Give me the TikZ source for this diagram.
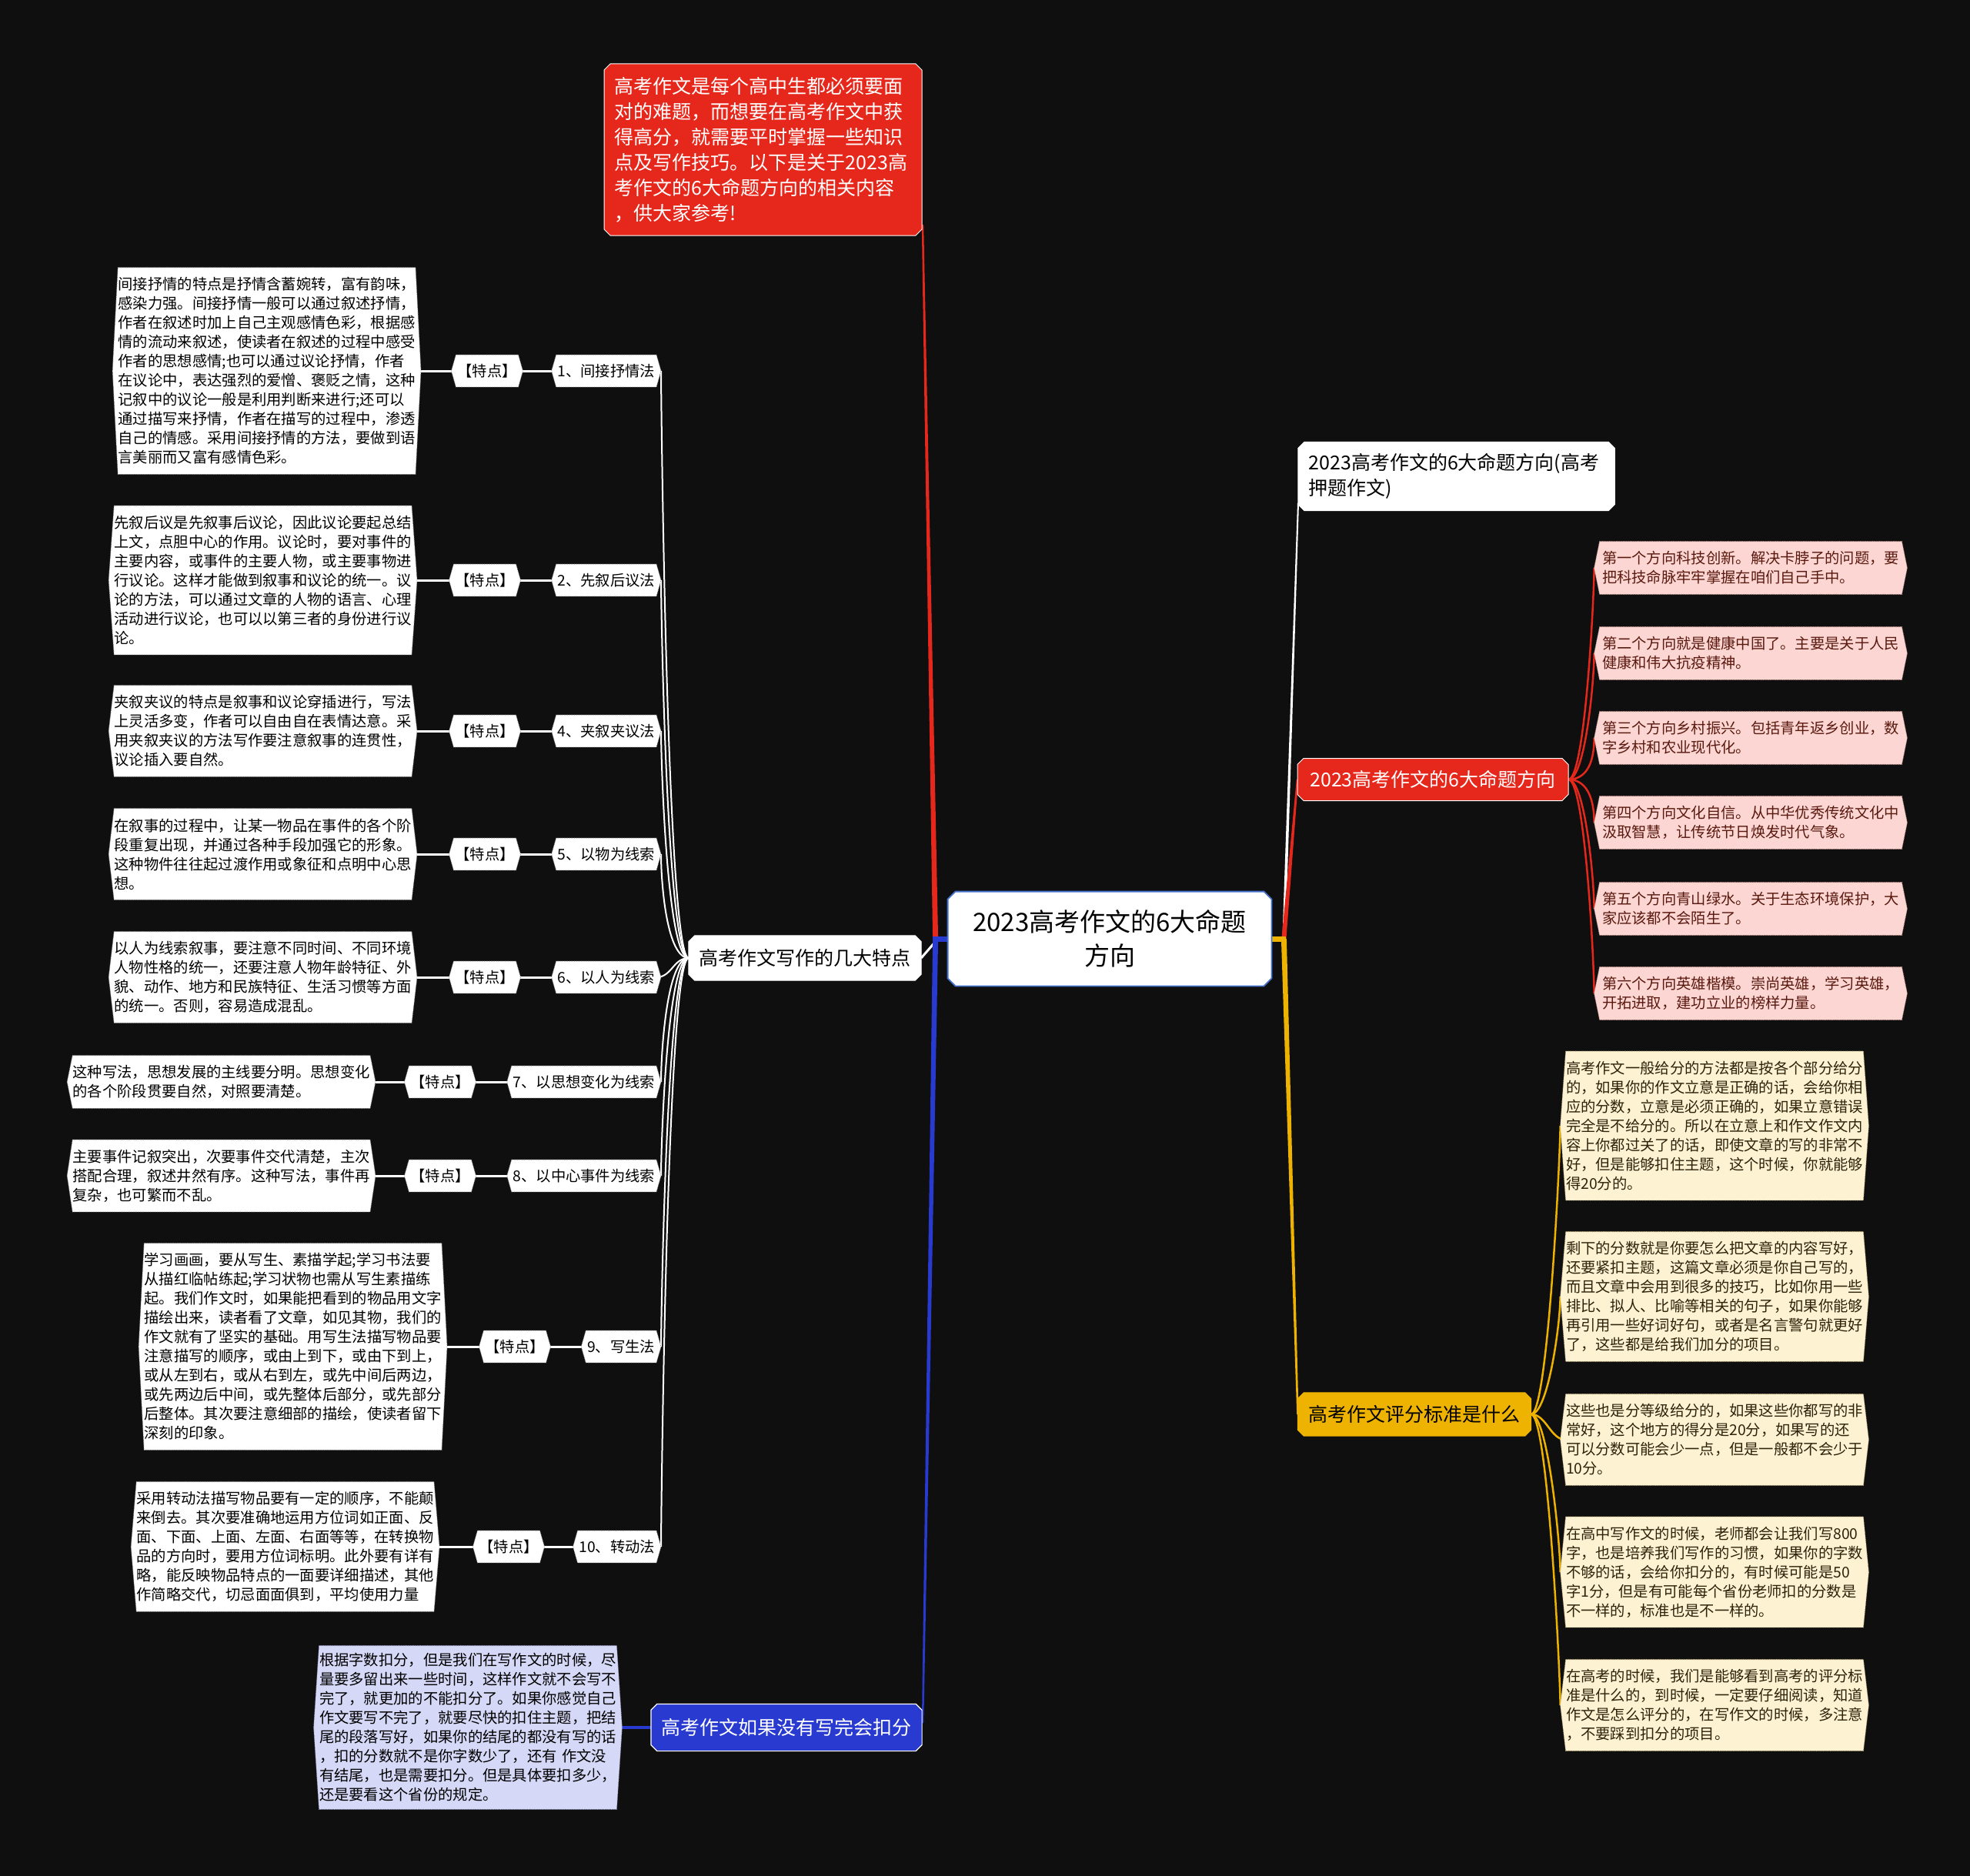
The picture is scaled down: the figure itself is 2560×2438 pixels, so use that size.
\documentclass[tikz,border=0pt]{standalone}
\usepackage{fontspec}
\newfontfamily\cjk{Noto Sans CJK SC}
\usetikzlibrary{calc,backgrounds}
\definecolor{bgc}{RGB}{15,15,15}
\definecolor{tred}{RGB}{230,40,28}
\definecolor{tblue}{RGB}{40,58,208}
\definecolor{tyel}{RGB}{238,178,0}
\definecolor{pinkf}{RGB}{252,214,210}
\definecolor{pinkd}{RGB}{200,150,145}
\definecolor{pinkt}{RGB}{90,25,15}
\definecolor{creamf}{RGB}{253,242,210}
\definecolor{creamd}{RGB}{190,170,120}
\definecolor{creamt}{RGB}{45,35,10}
\definecolor{lavf}{RGB}{213,216,246}
\definecolor{lavd}{RGB}{150,150,190}
\definecolor{cblue}{RGB}{70,115,205}

\makeatletter
\newdimen\hexTip \hexTip=6pt
\newdimen\hexCham \hexCham=0pt
\newdimen\hxL \newdimen\hxR \newdimen\hyB \newdimen\hyT \newdimen\hyM
\newdimen\hxLc \newdimen\hxRc \newdimen\hyBc \newdimen\hyTc \newdimen\hxLt \newdimen\hxRt
\pgfdeclareshape{hexbox}{
  \inheritsavedanchors[from=rectangle]
  \inheritanchorborder[from=rectangle]
  \inheritanchor[from=rectangle]{center}
  \inheritanchor[from=rectangle]{mid}
  \inheritanchor[from=rectangle]{base}
  \inheritanchor[from=rectangle]{north}
  \inheritanchor[from=rectangle]{south}
  \inheritanchor[from=rectangle]{east}
  \inheritanchor[from=rectangle]{west}
  \inheritanchor[from=rectangle]{north east}
  \inheritanchor[from=rectangle]{north west}
  \inheritanchor[from=rectangle]{south east}
  \inheritanchor[from=rectangle]{south west}
  \backgroundpath{%
    \southwest \hxL=\pgf@x \hyB=\pgf@y
    \northeast \hxR=\pgf@x \hyT=\pgf@y
    \hyM=.5\hyB \advance\hyM by .5\hyT
    \hxLc=\hxL \advance\hxLc by \hexCham
    \hxRc=\hxR \advance\hxRc by -\hexCham
    \hyBc=\hyB \advance\hyBc by \hexCham
    \hyTc=\hyT \advance\hyTc by -\hexCham
    \hxLt=\hxL \advance\hxLt by -\hexTip
    \hxRt=\hxR \advance\hxRt by \hexTip
    \pgfpathmoveto{\pgfqpoint{\hxLc}{\hyT}}
    \pgfpathlineto{\pgfqpoint{\hxRc}{\hyT}}
    \pgfpathlineto{\pgfqpoint{\hxR}{\hyTc}}
    \pgfpathlineto{\pgfqpoint{\hxRt}{\hyM}}
    \pgfpathlineto{\pgfqpoint{\hxR}{\hyBc}}
    \pgfpathlineto{\pgfqpoint{\hxRc}{\hyB}}
    \pgfpathlineto{\pgfqpoint{\hxLc}{\hyB}}
    \pgfpathlineto{\pgfqpoint{\hxL}{\hyBc}}
    \pgfpathlineto{\pgfqpoint{\hxLt}{\hyM}}
    \pgfpathlineto{\pgfqpoint{\hxL}{\hyTc}}
    \pgfpathclose
  }
}
\makeatother

\newcommand\taperline[5]{\fill[#1] ($(#2)!#4!90:(#3)$) -- ($(#3)!#5!-90:(#2)$) -- ($(#3)!#5!90:(#2)$) -- ($(#2)!#4!-90:(#3)$) -- cycle;}

\tikzset{
  hex tip/.code={\global\hexTip=#1},
  hex cham/.code={\global\hexCham=#1},
  nl/.style={minimum height={(#1-1)*25pt+43pt}},
  leaf/.style={shape=hexbox, hex tip=7pt, hex cham=0pt, align=left, text width=386pt,
    inner xsep=0pt, inner ysep=2pt, font=\cjk\fontsize{19.3}{25}\selectfont,
    line width=0.8pt, densely dotted},
  wleaf/.style={leaf, fill=white, draw=black!45, text=black},
  pleaf/.style={leaf, fill=pinkf, draw=pinkd, text=pinkt, inner xsep=3pt},
  yleaf/.style={leaf, fill=creamf, draw=creamd, text=creamt},
  vleaf/.style={leaf, fill=lavf, draw=lavd, text=black},
  small/.style={shape=hexbox, hex tip=6pt, hex cham=0pt, fill=white, draw=black!45,
    densely dotted, line width=0.8pt, font=\cjk\fontsize{19.3}{25}\selectfont,
    inner xsep=1.5pt, inner ysep=0pt, minimum height=41pt, text=black},
  main/.style={shape=hexbox, hex tip=0pt, hex cham=8pt, font=\cjk\fontsize{25}{33}\selectfont,
    inner xsep=13pt, inner ysep=0pt, line width=1.2pt},
  wthin/.style={draw=white, line width=2pt},
  wthick/.style={draw=white, line width=3pt},
  rthin/.style={draw=tred, line width=2.5pt},
  ythin/.style={draw=tyel, line width=2.5pt},
}

\begin{document}
\begin{tikzpicture}[x=1pt,y=-1pt]
\useasboundingbox (0,0) rectangle (2560,2438);

% ---------- main nodes
\node[main, hex cham=10pt, fill=white, draw=cblue, line width=1.8pt, text=black,
  minimum width=419pt, minimum height=121pt, align=center,
  font=\cjk\fontsize{33}{44}\selectfont] (C) at (1442,1220) {2023高考作文的6大命题\\方向};

\node[main, anchor=north west, fill=tred, draw=white, line width=1pt, text=white,
  text width=386pt, align=left, minimum height=222pt] (T) at (785,83)
  {高考作文是每个高中生都必须要面\\对的难题，而想要在高考作文中获\\得高分，就需要平时掌握一些知识\\点及写作技巧。以下是关于2023高\\考作文的6大命题方向的相关内容\\，供大家参考!};

\node[main, fill=white, draw=white, text=black, minimum width=301pt, minimum height=57pt]
  (LB) at (1046,1245) {高考作文写作的几大特点};

\node[main, fill=tblue, draw=white, text=white, minimum width=350pt, minimum height=60pt]
  (BL) at (1022,2245) {高考作文如果没有写完会扣分};

\node[main, anchor=west, fill=white, draw=white, text=black, text width=384pt, align=left,
  minimum height=88pt] (RT) at (1687,619) {2023高考作文的6大命题方向(高考\\押题作文)};

\node[main, fill=tred, draw=white, line width=1pt, text=white, minimum width=351pt, minimum height=54pt]
  (RR) at (1862,1013) {2023高考作文的6大命题方向};

\node[main, fill=tyel, draw=tyel, text=black, minimum width=302pt, minimum height=55pt]
  (RY) at (1838,1838) {高考作文评分标准是什么};

% ---------- pink leaves
\node[pleaf, nl=2] (P1) at (2275,738) {第一个方向科技创新。解决卡脖子的问题，要\\把科技命脉牢牢掌握在咱们自己手中。};
\node[pleaf, nl=2] (P2) at (2275,849) {第二个方向就是健康中国了。主要是关于人民\\健康和伟大抗疫精神。};
\node[pleaf, nl=2] (P3) at (2275,959) {第三个方向乡村振兴。包括青年返乡创业，数\\字乡村和农业现代化。};
\node[pleaf, nl=2] (P4) at (2275,1069) {第四个方向文化自信。从中华优秀传统文化中\\汲取智慧，让传统节日焕发时代气象。};
\node[pleaf, nl=2] (P5) at (2275,1181) {第五个方向青山绿水。关于生态环境保护，大\\家应该都不会陌生了。};
\node[pleaf, nl=2] (P6) at (2275,1291) {第六个方向英雄楷模。崇尚英雄，学习英雄，\\开拓进取，建功立业的榜样力量。};

% ---------- cream leaves
\node[yleaf, nl=7] (Y1) at (2228,1463) {高考作文一般给分的方法都是按各个部分给分\\的，如果你的作文立意是正确的话，会给你相\\应的分数，立意是必须正确的，如果立意错误\\完全是不给分的。所以在立意上和作文作文内\\容上你都过关了的话，即使文章的写的非常不\\好，但是能够扣住主题，这个时候，你就能够\\得20分的。};
\node[yleaf, nl=6] (Y2) at (2228,1685) {剩下的分数就是你要怎么把文章的内容写好，\\还要紧扣主题，这篇文章必须是你自己写的，\\而且文章中会用到很多的技巧，比如你用一些\\排比、拟人、比喻等相关的句子，如果你能够\\再引用一些好词好句，或者是名言警句就更好\\了，这些都是给我们加分的项目。};
\node[yleaf, nl=4] (Y3) at (2228,1871) {这些也是分等级给分的，如果这些你都写的非\\常好，这个地方的得分是20分，如果写的还\\可以分数可能会少一点，但是一般都不会少于\\10分。};
\node[yleaf, nl=5] (Y4) at (2228,2043) {在高中写作文的时候，老师都会让我们写800\\字，也是培养我们写作的习惯，如果你的字数\\不够的话，会给你扣分的，有时候可能是50\\字1分，但是有可能每个省份老师扣的分数是\\不一样的，标准也是不一样的。};
\node[yleaf, nl=4] (Y5) at (2228,2216) {在高考的时候，我们是能够看到高考的评分标\\准是什么的，到时候，一定要仔细阅读，知道\\作文是怎么评分的，在写作文的时候，多注意\\，不要踩到扣分的项目。};

% ---------- lavender leaf
\node[vleaf, minimum height=212pt] (V) at (608,2245) {根据字数扣分，但是我们在写作文的时候，尽\\量要多留出来一些时间，这样作文就不会写不\\完了，就更加的不能扣分了。如果你感觉自己\\作文要写不完了，就要尽快的扣住主题，把结\\尾的段落写好，如果你的结尾的都没有写的话\\，扣的分数就不是你字数少了，还有 作文没\\有结尾，也是需要扣分。但是具体要扣多少，\\还是要看这个省份的规定。};

% ---------- left rows
\node[small, anchor=east] (L1) at (853,482) {1、间接抒情法};
\node[small] (F1) at (633,482) {【特点】};
\node[wleaf, nl=10, anchor=east] (X1) at (540,482) {间接抒情的特点是抒情含蓄婉转，富有韵味，\\感染力强。间接抒情一般可以通过叙述抒情，\\作者在叙述时加上自己主观感情色彩，根据感\\情的流动来叙述，使读者在叙述的过程中感受\\作者的思想感情;也可以通过议论抒情，作者\\在议论中，表达强烈的爱憎、褒贬之情，这种\\记叙中的议论一般是利用判断来进行;还可以\\通过描写来抒情，作者在描写的过程中，渗透\\自己的情感。采用间接抒情的方法，要做到语\\言美丽而又富有感情色彩。};

\node[small, anchor=east] (L2) at (853,754) {2、先叙后议法};
\node[small] (F2) at (630,754) {【特点】};
\node[wleaf, nl=7, anchor=east] (X2) at (535,754) {先叙后议是先叙事后议论，因此议论要起总结\\上文，点胆中心的作用。议论时，要对事件的\\主要内容，或事件的主要人物，或主要事物进\\行议论。这样才能做到叙事和议论的统一。议\\论的方法，可以通过文章的人物的语言、心理\\活动进行议论，也可以以第三者的身份进行议\\论。};

\node[small, anchor=east] (L4) at (853,950) {4、夹叙夹议法};
\node[small] (F4) at (630,950) {【特点】};
\node[wleaf, nl=4, anchor=east] (X4) at (535,950) {夹叙夹议的特点是叙事和议论穿插进行，写法\\上灵活多变，作者可以自由自在表情达意。采\\用夹叙夹议的方法写作要注意叙事的连贯性，\\议论插入要自然。};

\node[small, anchor=east] (L5) at (853,1110) {5、以物为线索};
\node[small] (F5) at (630,1110) {【特点】};
\node[wleaf, nl=4, anchor=east] (X5) at (535,1110) {在叙事的过程中，让某一物品在事件的各个阶\\段重复出现，并通过各种手段加强它的形象。\\这种物件往往起过渡作用或象征和点明中心思\\想。};

\node[small, anchor=east] (L6) at (853,1270) {6、以人为线索};
\node[small] (F6) at (630,1270) {【特点】};
\node[wleaf, nl=4, anchor=east] (X6) at (535,1270) {以人为线索叙事，要注意不同时间、不同环境\\人物性格的统一，还要注意人物年龄特征、外\\貌、动作、地方和民族特征、生活习惯等方面\\的统一。否则，容易造成混乱。};

\node[small, anchor=east] (L7) at (853,1406) {7、以思想变化为线索};
\node[small] (F7) at (572,1406) {【特点】};
\node[wleaf, nl=2, anchor=east] (X7) at (481,1406) {这种写法，思想发展的主线要分明。思想变化\\的各个阶段贯要自然，对照要清楚。};

\node[small, anchor=east] (L8) at (853,1528) {8、以中心事件为线索};
\node[small] (F8) at (572,1528) {【特点】};
\node[wleaf, nl=3, anchor=east] (X8) at (481,1528) {主要事件记叙突出，次要事件交代清楚，主次\\搭配合理，叙述井然有序。这种写法，事件再\\复杂，也可繁而不乱。};

\node[small, anchor=east] (L9) at (853,1750) {9、写生法};
\node[small] (F9) at (669,1750) {【特点】};
\node[wleaf, nl=10, anchor=east] (X9) at (574,1750) {学习画画，要从写生、素描学起;学习书法要\\从描红临帖练起;学习状物也需从写生素描练\\起。我们作文时，如果能把看到的物品用文字\\描绘出来，读者看了文章，如见其物，我们的\\作文就有了坚实的基础。用写生法描写物品要\\注意描写的顺序，或由上到下，或由下到上，\\或从左到右，或从右到左，或先中间后两边，\\或先两边后中间，或先整体后部分，或先部分\\后整体。其次要注意细部的描绘，使读者留下\\深刻的印象。};

\node[small, anchor=east] (L10) at (853,2010) {10、转动法};
\node[small] (F10) at (661,2010) {【特点】};
\node[wleaf, nl=6, anchor=east] (X10) at (564,2010) {采用转动法描写物品要有一定的顺序，不能颠\\来倒去。其次要准确地运用方位词如正面、反\\面、下面、上面、左面、右面等等，在转换物\\品的方向时，要用方位词标明。此外要有详有\\略，能反映物品特点的一面要详细描述，其他\\作简略交代，切忌面面俱到，平均使用力量};

% ---------- connectors (behind nodes)
\begin{scope}[on background layer]
\fill[bgc] (0,0) rectangle (2560,2438);

% left hub
\coordinate (HL) at ($(C.west)+(-16,0)$);
\coordinate (tR) at ($(T.south east)+(1,-14)$);
\coordinate (tB) at ($(BL.east)+(1,-6)$);
\draw[white, line width=3pt] ($(HL)+(-2,6)$) -- (LB.east);
\taperline{tred}{HL}{tR}{3.5pt}{1.2pt}
\taperline{tblue}{HL}{tB}{3.5pt}{1.2pt}
\draw[tblue, line width=7pt] (C.west) -- ($(HL)+(-3.5,0)$);

% right hub
\coordinate (HR) at ($(C.east)+(16,0)$);
\coordinate (tW) at ($(RT.south west)+(0,-10)$);
\taperline{white}{HR}{tW}{2pt}{1pt}
\taperline{tred}{HR}{RR.west}{3pt}{1.2pt}
\taperline{tyel}{HR}{RY.west}{3.5pt}{1.2pt}
\draw[tyel, line width=7pt] (C.east) -- ($(HR)+(3,0)$);

% left branch to labels
\foreach \k/\s in {1/1,2/1,4/1,5/1,7/-1,8/-1,9/-1,10/-1}{
  \draw[wthin] (LB.west) .. controls ($(LB.west)+(-28,0)$) and ($(L\k.east)+(6,\s*40)$) .. ($(L\k.east)+(6,0)$);
}
\draw[wthin] (LB.west) .. controls +(-20,0) and +(20,0) .. (L6.east);
\foreach \k in {1,2,4,5,6,7,8,9,10}{
  \draw[wthick] (L\k.west) -- (F\k.east);
  \draw[wthick] (F\k.west) -- (X\k.east);
}

% red branch to pink leaves
\foreach \k/\s in {1/1,2/1,3/1,4/-1,5/-1,6/-1}{
  \draw[rthin] (RR.east) .. controls ($(RR.east)+(22,0)$) and ($(P\k.west)+(-7,\s*35)$) .. ($(P\k.west)+(-7,0)$);
}

% yellow branch to cream leaves
\foreach \k/\s in {1/1,2/1,4/-1,5/-1}{
  \draw[ythin] (RY.east) .. controls ($(RY.east)+(22,0)$) and ($(Y\k.west)+(-7,\s*35)$) .. ($(Y\k.west)+(-7,0)$);
}
\draw[ythin] (RY.east) .. controls +(20,0) and +(-20,0) .. (Y3.west);

% blue branch to lavender leaf
\draw[tblue, line width=4pt] (BL.west) -- (V.east);
\end{scope}
\end{tikzpicture}
\end{document}
